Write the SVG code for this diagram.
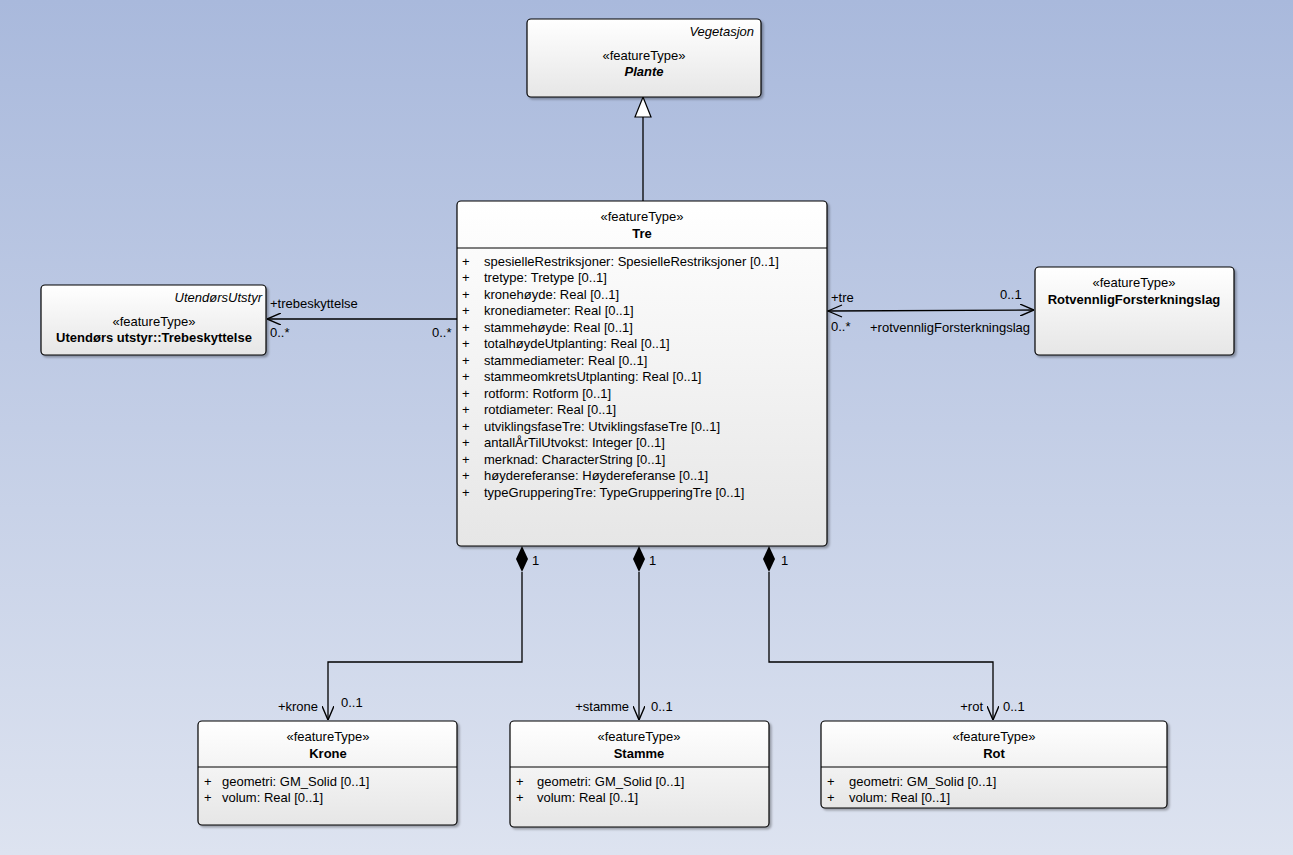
<svg xmlns="http://www.w3.org/2000/svg" width="1293" height="855" viewBox="0 0 1293 855">
<defs>
<linearGradient id="bg" x1="0" y1="0" x2="0" y2="1">
<stop offset="0" stop-color="#a9b9dc"/>
<stop offset="1" stop-color="#dde3f0"/>
</linearGradient>
<linearGradient id="box" x1="0" y1="0" x2="0" y2="1">
<stop offset="0" stop-color="#ffffff"/>
<stop offset="1" stop-color="#e6e6e6"/>
</linearGradient>
<filter id="sh" x="-5%" y="-5%" width="115%" height="115%">
<feDropShadow dx="2" dy="2" stdDeviation="1.2" flood-color="#000" flood-opacity="0.3"/>
</filter>
<marker id="open" viewBox="0 0 14 12" refX="14" refY="6" markerWidth="14" markerHeight="12" markerUnits="userSpaceOnUse" orient="auto">
<path d="M0,0 L14,6 L0,12" fill="none" stroke="#000" stroke-width="1.4"/>
</marker>
</defs>
<style>
text{font-family:"Liberation Sans",Arial,sans-serif;font-size:13px;fill:#000}
.c{text-anchor:middle}
.r{text-anchor:end}
.b{font-weight:bold}
.i{font-style:italic}
.a{fill:#222}
.node rect.f{fill:url(#box);stroke:#000;stroke-width:1.2;filter:url(#sh)}
.div{stroke:#000;stroke-width:1}
.ln{fill:none;stroke:#000;stroke-width:1.3}
</style>
<rect x="0" y="0" width="1293" height="855" fill="url(#bg)"/>

<g id="connectors">
<line class="ln" x1="643" y1="201" x2="643" y2="117"/>
<path d="M643,97 L651,117 L635,117 Z" fill="#fff" stroke="#000" stroke-width="1.2"/>
<line class="ln" x1="457" y1="319" x2="267" y2="319" marker-end="url(#open)"/>
<text x="270" y="308">+trebeskyttelse</text>
<text x="270" y="337">0..*</text>
<text x="432" y="337">0..*</text>
<line class="ln" x1="828" y1="311" x2="1034" y2="310" marker-end="url(#open)"/>
<path d="M842,305 L828,311 L842,317" class="ln"/>
<text x="831" y="302">+tre</text>
<text x="831" y="331">0..*</text>
<text x="1000" y="299">0..1</text>
<text x="870" y="332">+rotvennligForsterkningslag</text>
<path d="M522,546 L528,559 L522,572 L516,559 Z" fill="#000"/>
<path class="ln" d="M522,572 V662 H328 V720" marker-end="url(#open)"/>
<text x="532" y="565">1</text>
<text x="318" y="711" class="r">+krone</text>
<text x="341" y="707">0..1</text>
<path d="M639,546 L645,559 L639,572 L633,559 Z" fill="#000"/>
<path class="ln" d="M639,572 V720" marker-end="url(#open)"/>
<text x="649" y="565">1</text>
<text x="629" y="711" class="r">+stamme</text>
<text x="651" y="711">0..1</text>
<path d="M769,546 L775,559 L769,572 L763,559 Z" fill="#000"/>
<path class="ln" d="M769,572 V662 H993 V720" marker-end="url(#open)"/>
<text x="781" y="565">1</text>
<text x="983" y="711" class="r">+rot</text>
<text x="1003" y="711">0..1</text>
</g>

<g id="plante" class="node">
<rect class="f" x="527" y="19" width="234" height="78" rx="4"/>
<text x="754" y="36" class="r i">Vegetasjon</text>
<text x="644" y="60" class="c">«featureType»</text>
<text x="644" y="76" class="c b i">Plante</text>
</g>

<g id="tre" class="node">
<rect class="f" x="457" y="201" width="370" height="345" rx="4"/>
<text x="642" y="221" class="c">«featureType»</text>
<text x="642" y="238" class="c b">Tre</text>
<line class="div" x1="457" y1="248" x2="827" y2="248"/>
<g class="a">
<text x="462" y="266">+</text><text x="484" y="266">spesielleRestriksjoner: SpesielleRestriksjoner [0..1]</text>
<text x="462" y="282">+</text><text x="484" y="282">tretype: Tretype [0..1]</text>
<text x="462" y="299">+</text><text x="484" y="299">kronehøyde: Real [0..1]</text>
<text x="462" y="315">+</text><text x="484" y="315">kronediameter: Real [0..1]</text>
<text x="462" y="332">+</text><text x="484" y="332">stammehøyde: Real [0..1]</text>
<text x="462" y="348">+</text><text x="484" y="348">totalhøydeUtplanting: Real [0..1]</text>
<text x="462" y="365">+</text><text x="484" y="365">stammediameter: Real [0..1]</text>
<text x="462" y="381">+</text><text x="484" y="381">stammeomkretsUtplanting: Real [0..1]</text>
<text x="462" y="398">+</text><text x="484" y="398">rotform: Rotform [0..1]</text>
<text x="462" y="414">+</text><text x="484" y="414">rotdiameter: Real [0..1]</text>
<text x="462" y="431">+</text><text x="484" y="431">utviklingsfaseTre: UtviklingsfaseTre [0..1]</text>
<text x="462" y="447">+</text><text x="484" y="447">antallÅrTilUtvokst: Integer [0..1]</text>
<text x="462" y="464">+</text><text x="484" y="464">merknad: CharacterString [0..1]</text>
<text x="462" y="480">+</text><text x="484" y="480">høydereferanse: Høydereferanse [0..1]</text>
<text x="462" y="497">+</text><text x="484" y="497">typeGrupperingTre: TypeGrupperingTre [0..1]</text>
</g>
</g>

<g id="trebeskyttelse" class="node">
<rect class="f" x="41" y="285" width="225" height="70" rx="4"/>
<text x="262" y="302" class="r i">UtendørsUtstyr</text>
<text x="154" y="326" class="c">«featureType»</text>
<text x="154" y="342" class="c b">Utendørs utstyr::Trebeskyttelse</text>
</g>

<g id="rotvennlig" class="node">
<rect class="f" x="1035" y="267" width="199" height="88" rx="4"/>
<text x="1134" y="287" class="c">«featureType»</text>
<text x="1134" y="304" class="c b">RotvennligForsterkningslag</text>
</g>

<g id="krone" class="node">
<rect class="f" x="198" y="721" width="259" height="104" rx="4"/>
<text x="328" y="741" class="c">«featureType»</text>
<text x="328" y="758" class="c b">Krone</text>
<line class="div" x1="198" y1="767" x2="457" y2="767"/>
<g class="a">
<text x="204" y="786">+</text><text x="222" y="786">geometri: GM_Solid [0..1]</text>
<text x="204" y="802">+</text><text x="222" y="802">volum: Real [0..1]</text>
</g>
</g>

<g id="stamme" class="node">
<rect class="f" x="510" y="721" width="259" height="106" rx="4"/>
<text x="639" y="741" class="c">«featureType»</text>
<text x="639" y="758" class="c b">Stamme</text>
<line class="div" x1="510" y1="767" x2="769" y2="767"/>
<g class="a">
<text x="516" y="786">+</text><text x="537" y="786">geometri: GM_Solid [0..1]</text>
<text x="516" y="802">+</text><text x="537" y="802">volum: Real [0..1]</text>
</g>
</g>

<g id="rot" class="node">
<rect class="f" x="821" y="721" width="346" height="87" rx="4"/>
<text x="994" y="741" class="c">«featureType»</text>
<text x="994" y="758" class="c b">Rot</text>
<line class="div" x1="821" y1="767" x2="1167" y2="767"/>
<g class="a">
<text x="827" y="786">+</text><text x="849" y="786">geometri: GM_Solid [0..1]</text>
<text x="827" y="802">+</text><text x="849" y="802">volum: Real [0..1]</text>
</g>
</g>
</svg>
